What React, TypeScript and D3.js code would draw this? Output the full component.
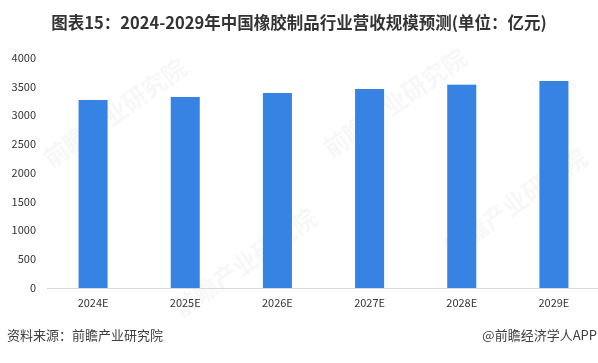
import React from "react";
import * as d3 from "d3";

const categories = ["2024E", "2025E", "2026E", "2027E", "2028E", "2029E"];
const values = [3270, 3322, 3391, 3461, 3536, 3600];
const yTicks = [0, 500, 1000, 1500, 2000, 2500, 3000, 3500, 4000];
const title = "图表15：2024-2029年中国橡胶制品行业营收规模预测(单位：亿元)";
const sourceText = "资料来源：前瞻产业研究院";
const brandText = "@前瞻经济学人APP";
const watermarkText = "前瞻产业研究院";

const W = 598;
const H = 363;
const FONT = "'Microsoft YaHei', 'Noto Sans CJK SC', 'Noto Sans', sans-serif";

export default function App() {
  const x = d3.scaleBand<string>().domain(categories).range([47, 600]).paddingInner(0.685).paddingOuter(0.3425);
  const y = d3.scaleLinear().domain([0, 4000]).range([288, 58]);

  const marks = [
    { x: 120, y: 120 },
    { x: 400, y: 110 },
    { x: 250, y: 270 },
    { x: 520, y: 210 },
  ];

  return (
    <svg width={W} height={H} style={{ position: "absolute", left: 0, top: 0, background: "#fff" }}>
      <rect width={W} height={H} fill="#fff" />
      <g opacity={0.035} fill="#000" fontFamily={FONT} fontWeight="bold" fontSize={24}>
        {marks.map((m, i) => (
          <text key={i} x={m.x} y={m.y} textAnchor="middle" transform={`rotate(-35 ${m.x} ${m.y})`}>
            {watermarkText}
          </text>
        ))}
      </g>
      <text x={W / 2} y={29} textAnchor="middle" fontFamily={FONT} fontWeight="bold" fontSize={16.5} fill="#333">
        {title}
      </text>
      {yTicks.map((t) => (
        <text key={t} x={36} y={y(t)} dy="0.35em" textAnchor="end" fontFamily={FONT} fontSize={11} fill="#333">
          {t}
        </text>
      ))}
      {categories.map((c, i) => (
        <rect key={c} x={x(c)} y={y(values[i])} width={x.bandwidth()} height={y(0) - y(values[i])} fill="#3683E3" />
      ))}
      <line x1={47} x2={598} y1={288.5} y2={288.5} stroke="#d9d9d9" strokeWidth={1} />
      {categories.map((c) => (
        <text key={c} x={(x(c) as number) + x.bandwidth() / 2} y={303} dy="0.35em" textAnchor="middle" fontFamily={FONT} fontSize={11} fill="#333">
          {c}
        </text>
      ))}
      <text x={7} y={335} dy="0.35em" fontFamily={FONT} fontSize={13} fill="#404040">
        {sourceText}
      </text>
      <text x={597} y={335} dy="0.35em" textAnchor="end" fontFamily={FONT} fontSize={13} fill="#404040">
        {brandText}
      </text>
    </svg>
  );
}
